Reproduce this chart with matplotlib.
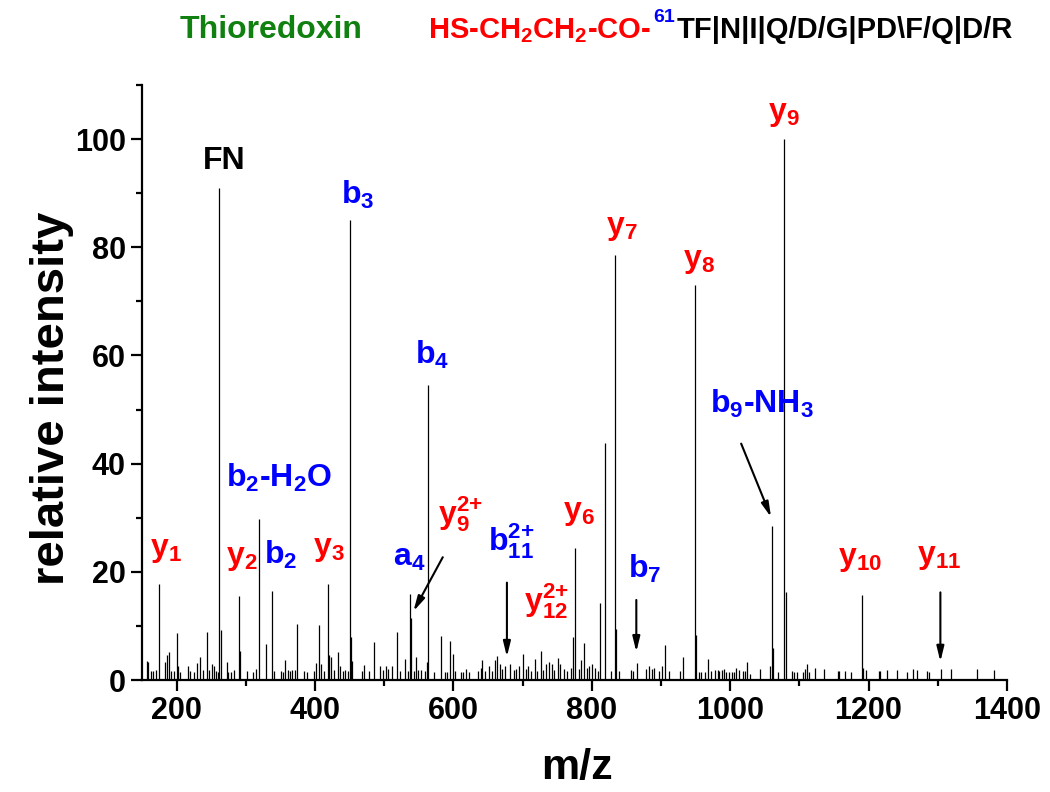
import matplotlib
matplotlib.use('Agg')
import matplotlib.pyplot as plt
from matplotlib.ticker import MultipleLocator

plt.rcParams['font.family'] = ['Liberation Sans', 'DejaVu Sans']
plt.rcParams['font.weight'] = 'bold'
plt.rcParams['mathtext.fontset'] = 'custom'
plt.rcParams['mathtext.rm'] = 'Liberation Sans:bold'
plt.rcParams['mathtext.bf'] = 'Liberation Sans:bold'
plt.rcParams['mathtext.it'] = 'Liberation Sans:bold'

# ---------------- data ----------------
# assigned fragment peaks (m/z, relative intensity)
frag_mz = [175, 262, 290.5, 319.5, 337.5, 418.5, 451, 537, 539.5, 564,
           776, 812.5, 818.5, 834, 949.5, 1060, 1078, 1190]
frag_int = [17.7, 91, 15.6, 29.8, 16.5, 17.7, 85, 15.9, 11.4, 54.6,
            24.4, 14.3, 43.8, 78.6, 73, 28.4, 100, 15.8]

# background / minor peaks
bg_mz = [157, 159, 163, 166, 171, 183, 186, 189.5, 192.5, 196.5, 200, 202.5, 205.5,
         216, 219, 225.5, 229, 234, 237.5, 243.5, 247.5, 250.5, 254.5, 257, 260.5,
         263.5, 272.5, 274.5, 278.5, 283.5, 291.5, 301.5, 311, 315.5, 329.5, 340.5,
         351, 353.5, 356.5, 360.5, 364.5, 367.5, 371.5, 374, 383.5, 388, 399, 402,
         405.5, 408.5, 413.5, 421, 423.5, 428, 433, 436.5, 440, 443.5, 447.5, 452.5,
         454, 467.5, 470.5, 478.5, 486, 494.5, 498, 502, 505.5, 511, 519, 523.5,
         530.5, 534, 543, 546.5, 549.5, 553.5, 558.5, 562,
         572, 582, 587.5, 591.5, 595.5, 599.5, 602.5, 611, 614.5, 618, 623, 635,
         639.5, 642, 645.5, 652, 655.5, 660, 662.5, 667, 671, 675, 682, 688, 691,
         695, 700, 705, 708, 712, 718, 721.5, 726.5, 730, 734.5, 738.5, 742, 746,
         750.5, 754, 760, 764, 770, 773, 781, 785, 789, 792.5, 796.5, 801, 804.5,
         808.5, 828, 835.5, 840, 856.5, 859, 865, 878.5, 883, 886.5, 890.5, 897.5,
         901, 906, 912, 927.5, 932.5, 951, 954.5, 958, 963, 967.5, 972.5, 978, 982,
         984.5, 988, 990.5, 994, 999, 1002, 1006, 1008.5, 1013, 1018, 1021.5,
         1024.5, 1028, 1043, 1058, 1062, 1069, 1080, 1089, 1092, 1096, 1105, 1108,
         1111, 1114.5, 1123, 1136, 1155.5, 1158, 1166.5, 1174, 1192, 1197, 1215,
         1217, 1227, 1241, 1256, 1264, 1270, 1285, 1288, 1305, 1319.5, 1356.5, 1381]
bg_int = [3.6, 3.3, 1.7, 1.7, 1.8, 3.3, 4.6, 5.1, 1.7, 1.7, 8.6, 2.6, 1.4,
          2.5, 1.7, 1.4, 3.1, 4.3, 1.8, 8.9, 1.8, 3.0, 2.5, 1.6, 1.4,
          9.2, 3.3, 1.4, 1.4, 1.8, 5.4, 1.6, 1.4, 2.0, 6.6, 1.7,
          1.7, 1.4, 3.7, 1.8, 1.7, 1.8, 1.8, 10.3, 1.7, 1.4, 1.7, 3.1,
          10.2, 3.0, 1.7, 4.6, 4.2, 1.8, 5.1, 2.5, 1.7, 1.8, 1.7, 8.0,
          3.6, 1.7, 2.8, 1.7, 7.0, 2.5, 1.8, 2.5, 2.0, 2.5, 8.8, 1.7,
          3.9, 1.7, 1.7, 4.2, 1.8, 1.8, 1.7, 3.3,
          1.4, 8.2, 1.4, 1.4, 7.3, 4.8, 1.7, 1.4, 1.4, 2.0, 1.4, 1.7,
          2.3, 3.7, 1.7, 2.6, 1.7, 3.7, 4.5, 3.0, 2.0, 2.6, 3.0, 1.8, 2.0,
          2.5, 4.8, 2.0, 2.5, 1.7, 3.9, 1.7, 5.3, 1.8, 3.0, 3.3, 3.0, 1.8,
          4.1, 3.0, 2.0, 1.7, 2.3, 8.0, 2.0, 3.7, 6.8, 2.3, 2.6, 3.0, 2.3,
          1.7, 1.7, 9.4, 1.7, 1.8, 1.7, 3.1, 2.0, 2.5, 2.0, 2.3, 1.7,
          2.5, 6.5, 1.7, 1.7, 4.3, 8.3, 1.4, 1.4, 1.4, 3.9, 1.7, 1.8, 1.8,
          1.7, 1.8, 2.0, 1.4, 1.4, 1.4, 1.4, 2.3, 1.8, 1.7, 1.7,
          3.3, 1.2, 2.0, 2.5, 6.0, 1.4, 16.2, 1.6, 1.4, 1.4, 1.4, 2.0,
          3.0, 1.4, 2.2, 2.0, 1.6, 1.7, 1.6, 1.4, 2.3, 1.8, 1.7,
          1.7, 1.8, 1.8, 1.4, 2.0, 1.8, 1.6, 1.4, 2.0, 2.0, 2.0, 1.8]

# peak labels: text, x (m/z), y (intensity), colour
SUP = '^{\\mathbf{2}{\\mathbf{+}}}'
label_text = ['y$_\\mathbf{1}$', 'FN', 'y$_\\mathbf{2}$', 'b$_\\mathbf{2}$-H$_\\mathbf{2}$O',
              'b$_\\mathbf{2}$', 'y$_\\mathbf{3}$', 'b$_\\mathbf{3}$', 'a$_\\mathbf{4}$',
              'y$_\\mathbf{9}' + SUP + '$', 'b$_\\mathbf{4}$', 'b$_\\mathbf{11}' + SUP + '$',
              'y$_\\mathbf{12}' + SUP + '$', 'y$_\\mathbf{6}$', 'y$_\\mathbf{7}$', 'b$_\\mathbf{7}$',
              'y$_\\mathbf{8}$', 'b$_\\mathbf{9}$-NH$_\\mathbf{3}$', 'y$_\\mathbf{9}$',
              'y$_\\mathbf{10}$', 'y$_\\mathbf{11}$']
label_x = [184, 269, 294, 348, 350.7, 420, 462, 536, 610, 570, 683, 735, 782, 843,
           877, 955, 1046, 1077.5, 1187.5, 1302]
label_y = [24, 96, 22.6, 37.4, 23.2, 24.2, 89.7, 22.6, 30.7, 60.1, 25.6, 14.6, 30.8,
           83.6, 20.6, 77.5, 51, 104.7, 22.4, 22.8]
label_color = ['red', 'black', 'red', 'blue', 'blue', 'red', 'blue', 'blue', 'red', 'blue',
               'blue', 'red', 'red', 'red', 'blue', 'red', 'blue', 'red', 'red', 'red']

# arrows: tail (x, y) -> head (x, y)
arrow_tail = [(584.7, 22.7), (677.4, 18.0), (864.4, 14.8), (1015.9, 43.7), (1303.8, 16.2)]
arrow_head = [(542.3, 12.7), (677.4, 4.3), (864.4, 5.2), (1059.1, 30.1), (1303.8, 3.4)]

# ---------------- figure ----------------
fig = plt.figure(figsize=(10.5, 7.92), dpi=100)
ax = fig.add_axes([0.1352, 0.1414, 0.8238, 0.7513])

ax.vlines(bg_mz, 0, bg_int, color='black', lw=0.9)
ax.vlines(frag_mz, 0, frag_int, color='black', lw=0.9)

for t, x, y, c in zip(label_text, label_x, label_y, label_color):
    ax.text(x, y, t, color=c, fontsize=23, fontweight='bold', ha='center', va='center')

for (tx, ty), (hx, hy) in zip(arrow_tail, arrow_head):
    ax.annotate('', xy=(hx, hy), xytext=(tx, ty),
                arrowprops=dict(arrowstyle='-|>,head_length=0.9,head_width=0.22',
                                color='black', lw=1.5, shrinkA=0, shrinkB=0))

ax.set_xlim(150, 1400)
ax.set_ylim(0, 110)
ax.xaxis.set_major_locator(MultipleLocator(200))
ax.xaxis.set_minor_locator(MultipleLocator(100))
ax.yaxis.set_major_locator(MultipleLocator(20))
ax.yaxis.set_minor_locator(MultipleLocator(10))
for s in ['top', 'right']:
    ax.spines[s].set_visible(False)
for s in ['left', 'bottom']:
    ax.spines[s].set_linewidth(1.6)
ax.tick_params(which='major', direction='out', length=8, width=1.6, labelsize=22)
ax.tick_params(which='minor', direction='out', length=4.5, width=1.6)
for lab in ax.get_xticklabels() + ax.get_yticklabels():
    lab.set_fontweight('bold')

fig.text(0.050, 0.497, 'relative intensity', rotation=90, fontsize=34, fontweight='bold',
         ha='center', va='center')
fig.text(0.549, 0.030, 'm/z', fontsize=31, fontweight='bold', ha='center', va='center')

# title
fig.canvas.draw()
r = fig.canvas.get_renderer()
fig.text(0.171, 0.952, 'Thioredoxin', color='#108010', fontsize=23, fontweight='bold',
         ha='left', va='baseline')
t1 = fig.text(0.408, 0.952, 'HS-CH$_\\mathbf{2}$CH$_\\mathbf{2}$-CO-', color='red', fontsize=21,
              fontweight='bold', ha='left', va='baseline')
bb = t1.get_window_extent(r).transformed(fig.transFigure.inverted())
t2 = fig.text(bb.x1 + 0.002, 0.972, '61', color='blue', fontsize=14, fontweight='bold',
              ha='left', va='baseline')
bb2 = t2.get_window_extent(r).transformed(fig.transFigure.inverted())
fig.text(bb2.x1 + 0.001, 0.952, 'TF|N|I|Q/D/G|PD\\F/Q|D/R', color='black', fontsize=21,
         fontweight='bold', ha='left', va='baseline')

fig.savefig('out.png', dpi=100)
